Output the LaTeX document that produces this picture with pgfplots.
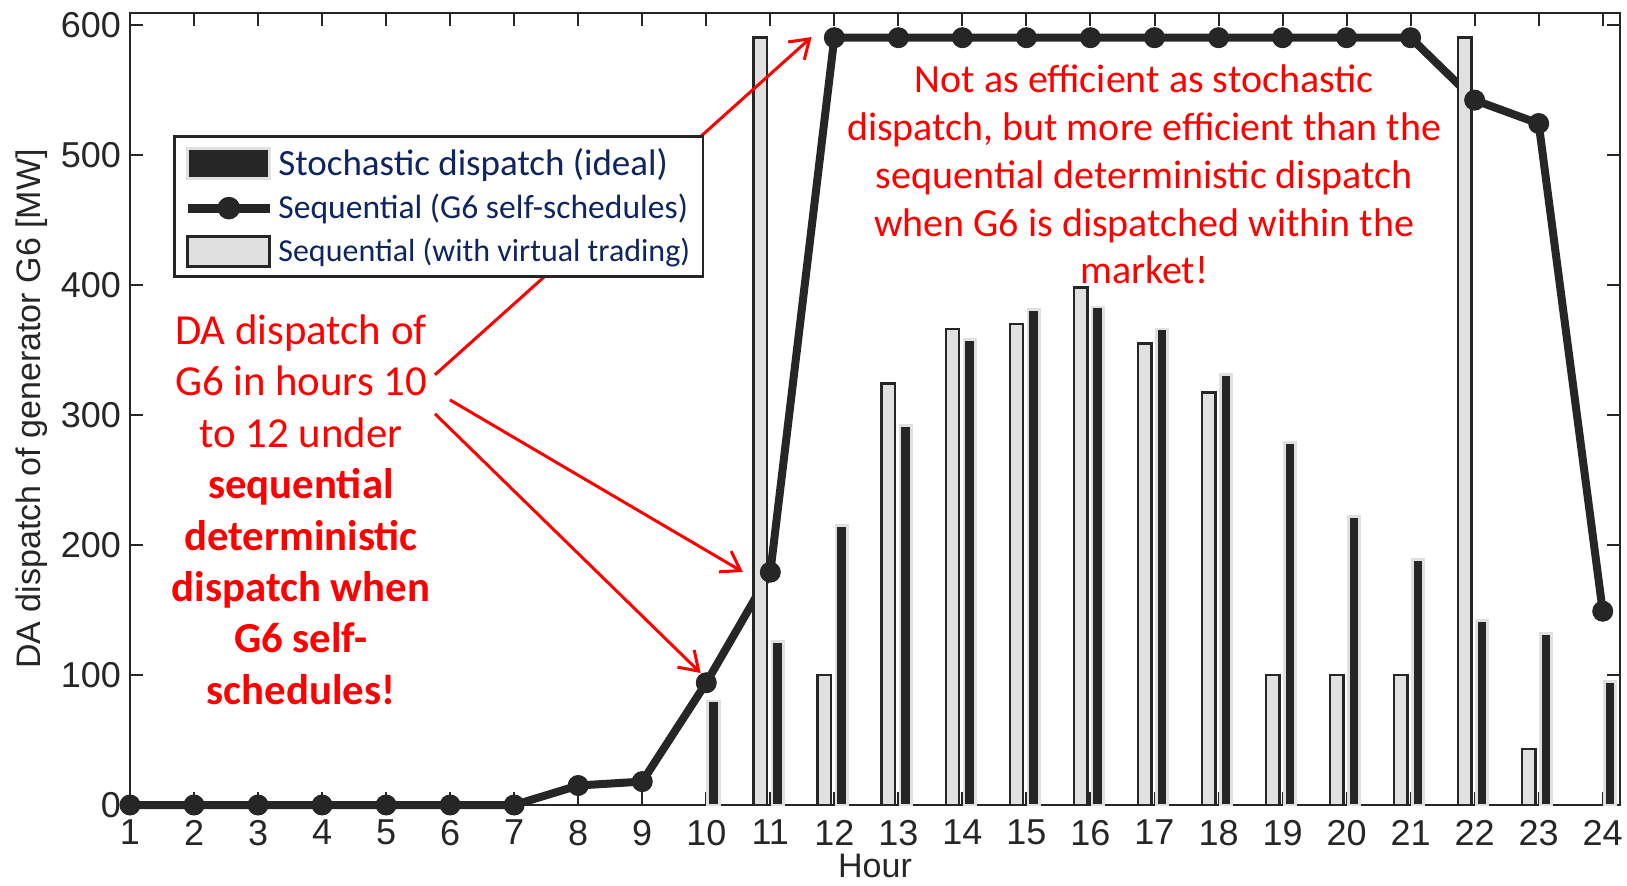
\documentclass[border=0pt]{standalone}
\usepackage{pgfplots}
\pgfplotsset{compat=1.18}
\usepackage{fontspec}
\setmainfont{Liberation Sans}
\newfontfamily\calibri{Carlito}
\usetikzlibrary{arrows.meta}
\definecolor{dk}{HTML}{262626}
\definecolor{lt}{HTML}{E0E0E0}
\definecolor{navy}{HTML}{0D2560}
\begin{document}
\begin{tikzpicture}
\useasboundingbox (-65pt,-40pt) rectangle (748.5pt,402.5pt);
\begin{axis}[
  at={(0,0)}, anchor=south west,
  scale only axis, width=745pt, height=396pt,
  xmin=1, xmax=24.27, ymin=0, ymax=609,
  xtick={1,...,24}, ytick={0,100,...,600},
  tick align=inside, major tick length=6.5pt,
  every tick/.style={dk, line width=1pt},
  axis line style={dk, line width=1.3pt},
  /pgf/number format/assume math mode=true,
  tick label style={font=\fontsize{18}{20}\selectfont, text=dk},
  xticklabel style={yshift=-4pt},
  yticklabel style={xshift=-1pt},
  every axis y label/.style={at={(axis description cs:-0.0658,0.5)}, rotate=90, anchor=center, font=\fontsize{17}{20}\selectfont, text=dk},
  every axis x label/.style={at={(axis description cs:0.5,-0.077)}, anchor=center, font=\fontsize{17}{19}\selectfont, text=dk},
  xlabel={Hour}, ylabel={DA dispatch of generator G6 [MW]},
  clip=false,
  legend style={at={(axis description cs:0.0289,0.846)}, anchor=north west, draw=dk, line width=1.3pt, fill=white,
    font=\calibri\fontsize{16}{18}\selectfont, text=navy, inner xsep=4.5pt, inner ysep=4pt, row sep=4pt,
    cells={anchor=west}},
]
\addlegendimage{legend image code/.code={\draw[fill=dk,draw=lt,line width=1.5pt] (0pt,-7.5pt) rectangle (41pt,7.5pt);}}
\addlegendentry{\fontsize{18.5}{20}\selectfont Stochastic dispatch (ideal)}
\addlegendimage{legend image code/.code={\draw[dk,line width=4.5pt] (0pt,0pt) -- (41pt,0pt); \fill[dk] (20.5pt,0pt) circle (5pt);}}
\addlegendentry{\fontsize{16.8}{19}\selectfont Sequential (G6 self-schedules)}
\addlegendimage{legend image code/.code={\draw[fill=lt,draw=dk,line width=1.5pt] (0pt,-7.5pt) rectangle (41pt,7.5pt);}}
\addlegendentry{\fontsize{16}{18}\selectfont Sequential (with virtual trading)}

% Sequential (G6 self-schedules)
\addplot[dk, line width=4pt, mark=*, mark size=5pt, mark options={fill=dk, draw=dk, line width=0.5pt}, forget plot]
coordinates {(1,0)(2,0)(3,0)(4,0)(5,0)(6,0)(7,0)(8,15)(9,18)(10,94)(11,179)(12,590)(13,590)(14,590)(15,590)(16,590)(17,590)(18,590)(19,590)(20,590)(21,590)(22,542)(23,524)(24,149)};

% Sequential (with virtual trading)
\addplot[ybar, bar width=0.21, bar shift=-0.155, fill=lt, draw=dk, line width=1.25pt, forget plot]
coordinates {(11,590)(12,100)(13,324)(14,366)(15,370)(16,398)(17,355)(18,317)(19,100)(20,100)(21,100)(22,590)(23,43)};

% Stochastic dispatch (ideal)
\addplot[ybar, bar width=0.18, bar shift=0.115, fill=dk, draw=lt, line width=1.4pt, forget plot]
coordinates {(10,80)(11,126)(12,215)(13,292)(14,358)(15,381)(16,383)(17,366)(18,331)(19,279)(20,222)(21,189)(22,142)(23,132)(24,95)};

\node[text=red, font=\calibri\fontsize{21.4}{25.7}\selectfont, align=center] at (axis cs:3.67,227)
 {DA dispatch of\\G6 in hours 10\\to 12 under\\\textbf{sequential}\\\textbf{deterministic}\\\textbf{dispatch when}\\\textbf{G6 self-}\\\textbf{schedules!}};
\node[text=red, font=\calibri\fontsize{20}{23.9}\selectfont, align=center] at (axis cs:16.84,484.8)
 {Not as efficient as stochastic\\dispatch, but more efficient than the\\sequential deterministic dispatch\\when G6 is dispatched within the\\market!};

\draw[red, line width=1.5pt, -{Straight Barb[length=9pt, width=12pt]}] (axis cs:5.763,330.8) -- (axis cs:11.645,590.5);
\draw[red, line width=1.5pt, -{Straight Barb[length=9pt, width=12pt]}] (axis cs:5.997,311.5) -- (axis cs:10.572,179.2);
\draw[red, line width=1.5pt, -{Straight Barb[length=9pt, width=12pt]}] (axis cs:5.763,300.8) -- (axis cs:9.912,101.5);
\end{axis}
\end{tikzpicture}
\end{document}
